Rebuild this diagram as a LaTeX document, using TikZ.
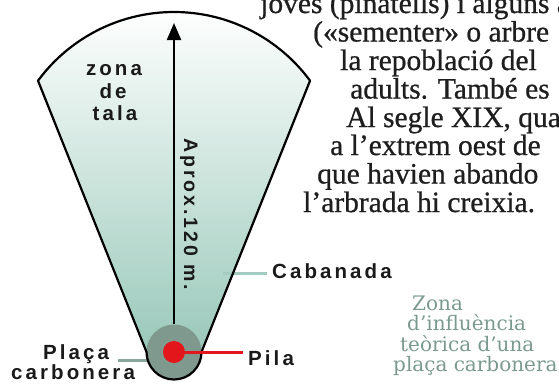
\documentclass[tikz,border=0pt]{standalone}
\usepackage{fontspec}
\setmainfont{Liberation Serif}
\newfontfamily\bodyfont[FakeBold=0.7]{Liberation Serif}
\newfontfamily\lblfont[LetterSpace=15]{Liberation Sans}
\newfontfamily\zonafont{DejaVu Serif}
\usetikzlibrary{arrows.meta}
\definecolor{fanbot}{RGB}{145,196,180}
\definecolor{plazagray}{RGB}{127,153,143}
\definecolor{pilered}{RGB}{226,22,27}
\definecolor{cabline}{RGB}{163,203,192}
\definecolor{plline}{RGB}{139,166,156}
\definecolor{zonacol}{RGB}{122,154,142}
\definecolor{lblblack}{RGB}{26,26,26}
\definecolor{bodyblack}{RGB}{30,30,30}
\begin{document}
\begin{tikzpicture}[x=1bp,y=-1bp,
  lbl/.style={font=\lblfont\bfseries\fontsize{20.5bp}{22.5bp}\selectfont, text=lblblack, inner sep=0pt},
  bodytxt/.style={font=\bodyfont\fontsize{29.5bp}{28bp}\selectfont, text=bodyblack, inner sep=0pt, anchor=base west},
  zonatxt/.style={font=\zonafont\fontsize{20bp}{20bp}\selectfont, text=zonacol, inner sep=0pt, anchor=base west},
  outline/.style={draw=black, line width=2.2bp, line join=round},
  leader/.style={line width=3bp}]
\useasboundingbox (0,0) rectangle (559,384);
\clip (0,0) rectangle (559,384);
% fan fill
\shade[top color=white, bottom color=fanbot]
  (38,80.7) arc[start angle=-143.6, end angle=-36.4, radius=169]
  -- (201.5,352) arc[start angle=0, end angle=180, radius=27.5] -- cycle;
% leader lines under outline
\coordinate (cabin) at (223,273);
\coordinate (plin) at (148,360);
\node[lbl, anchor=base west] (cab) at (272,278) {Cabanada};
\draw[leader, cabline, shorten >=5bp] (cabin) -- (cab.west |- cabin);
% plaza
\node[circle, fill=plazagray, minimum size=55bp, inner sep=0pt] (plaza) at (174,352) {};
\node[lbl, anchor=base west] (pl1) at (43,359.5) {Plaça};
\node[lbl, anchor=base west] (pl2) at (11,379.5) {carbonera};
\draw[leader, plline] (118,360) coordinate (plout) -- (plin);
% outline
\draw[outline]
  (38,80.7) arc[start angle=-143.6, end angle=-36.4, radius=169]
  -- (201.5,352) arc[start angle=0, end angle=180, radius=27.5] -- cycle;
% arrow
\coordinate (tip) at (174,23);
\draw[line width=2.2bp, -{Triangle[length=17bp,width=14bp]}] (plaza.north) -- (tip);
% pile
\node[circle, fill=pilered, minimum size=22bp, inner sep=0pt] (pile) at (174,352) {};
\node[lbl, anchor=base west] (pila) at (248,365) {Pila};
\draw[leader, pilered, shorten >=5bp] (pile.center) -- (pila.west |- pile.center);
% labels
\node[lbl, font=\lblfont\bfseries\fontsize{19.5bp}{22bp}\selectfont, rotate=-90, anchor=base west] (aprox) at (184,138) {Aprox.120 m.};
\node[lbl, anchor=base] (zt1) at (114,75) {zona};
\node[lbl, anchor=base] (zt2) at (113,98) {de};
\node[lbl, anchor=base] (zt3) at (115,120) {tala};
% body text
\node[bodytxt] (t1) at (260,13) {joves (pinatells) i alguns a};
\node[bodytxt] (t2) at (313,41.5) {(«sementer» o arbre};
\node[bodytxt] (t3) at (340,70) {la repoblació del};
\node[bodytxt] (t4) at (350,98.5) {adults. També es};
\node[bodytxt] (t5) at (346,127) {Al segle XIX, quan};
\node[bodytxt] (t6) at (330,155) {a l’extrem oest de};
\node[bodytxt] (t7) at (317,183.5) {que havien abando};
\node[bodytxt] (t8) at (303,212) {l’arbrada hi creixia.};
% zona d'influencia
\node[zonatxt] (z1) at (412,310) {Zona};
\node[zonatxt] (z2) at (407,330.5) {d’influència};
\node[zonatxt] (z3) at (400,351) {teòrica d’una};
\node[zonatxt] (z4) at (393,371.5) {plaça carbonera};
\end{tikzpicture}
\end{document}
